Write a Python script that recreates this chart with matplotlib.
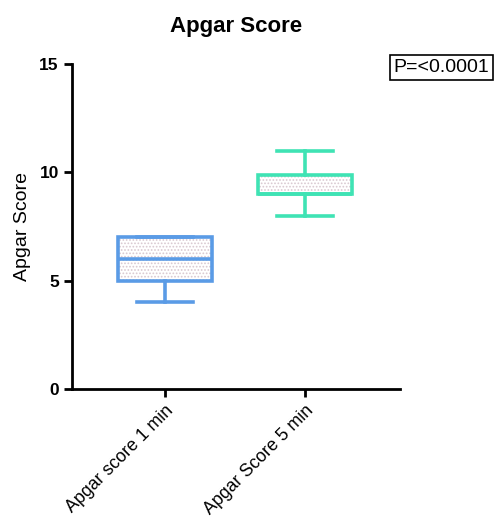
import matplotlib
matplotlib.use("Agg")
import matplotlib.pyplot as plt
from matplotlib.patches import PathPatch

plt.rcParams['font.family'] = ['Liberation Sans', 'DejaVu Sans']
plt.rcParams['hatch.linewidth'] = 0.8

# box statistics
groups = ['Apgar score 1 min', 'Apgar Score 5 min']
mins = [4, 8]
q1s = [5, 9]
medians = [6, 9]
q3s = [7, 9.9]
maxs = [7, 11]
colors = ['#5a9be6', '#3fe3b4']
p_text = 'P=<0.0001'

stats = []
for g, lo, a, m, b, hi in zip(groups, mins, q1s, medians, q3s, maxs):
    stats.append({'label': g, 'whislo': lo, 'q1': a, 'med': m, 'q3': b, 'whishi': hi})

fig = plt.figure(figsize=(4.97, 5.25), dpi=100)
ax = fig.add_axes([0.145, 0.259, 0.66, 0.619])

bp = ax.bxp(stats, positions=[1, 2], widths=0.67, patch_artist=True,
            showfliers=False, capwidths=0.4)

for i, c in enumerate(colors):
    box = bp['boxes'][i]
    box.set_facecolor('white')
    box.set_edgecolor('#d8c8d0')
    box.set_linewidth(0)
    box.set_hatch('.....')
    # outline on top of the hatched fill
    ax.add_patch(PathPatch(box.get_path(), fill=False, edgecolor=c, linewidth=2.6, zorder=3))
    bp['medians'][i].set(color=c, linewidth=2.6, zorder=4)
    for ln in bp['whiskers'][2 * i:2 * i + 2] + bp['caps'][2 * i:2 * i + 2]:
        ln.set(color=c, linewidth=2.6)

ax.set_xlim(0.336, 2.68)
ax.set_ylim(0, 15)
ax.set_yticks([0, 5, 10, 15])
ax.spines['top'].set_visible(False)
ax.spines['right'].set_visible(False)
ax.spines['left'].set_linewidth(2)
ax.spines['bottom'].set_linewidth(2)
ax.tick_params(axis='both', width=2, length=6)
ax.tick_params(axis='y', labelsize=12.5)
for t in ax.get_yticklabels():
    t.set_fontweight('bold')
ax.set_xticks([1, 2])
ax.set_xticklabels(groups, rotation=45, ha='right', rotation_mode='anchor', fontsize=12.8)
ax.set_ylabel('Apgar Score', fontsize=14, labelpad=6)
ax.set_title('Apgar Score', fontsize=16, fontweight='bold', pad=23)

fig.text(0.792, 0.872, p_text, fontsize=14, va='center',
         bbox=dict(boxstyle='square,pad=0.2', facecolor='white', edgecolor='black', linewidth=1.2))

fig.savefig('out.png', dpi=100)
